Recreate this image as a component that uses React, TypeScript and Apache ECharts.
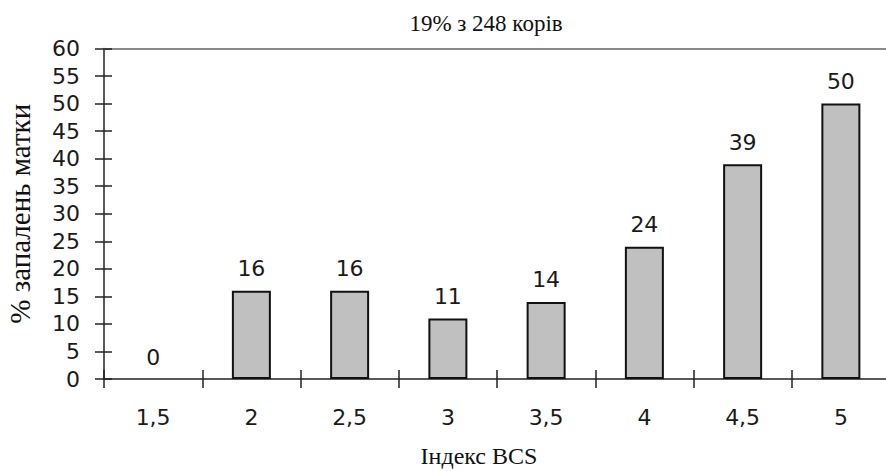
import React, { useEffect, useRef } from "react";
import * as echarts from "echarts";

const categories = ["1,5", "2", "2,5", "3", "3,5", "4", "4,5", "5"];
const values = [0, 16, 16, 11, 14, 24, 39, 50];
const titleText = "19% з 248 корів";
const xName = "Індекс BCS";
const yName = "% запалень матки";
const yMin = 0;
const yMax = 60;
const yStep = 5;

const SANS = "DejaVu Sans";
const SERIF = "Liberation Serif";

export default function App() {
  const ref = useRef<HTMLDivElement>(null);
  useEffect(() => {
    if (!ref.current) return;
    const chart = echarts.init(ref.current, null, { renderer: "svg" });
    const axisColor = "#222";
    const barData = values.map((v) =>
      v === 0 ? { value: v, itemStyle: { borderWidth: 0 } } : { value: v }
    );
    chart.setOption({
      animation: false,
      backgroundColor: "#fff",
      title: {
        text: titleText,
        left: 481,
        top: 7,
        textAlign: "center",
        textStyle: { fontFamily: SERIF, fontSize: 23, fontWeight: "normal", color: "#111" },
      },
      grid: {
        left: 104,
        right: -4,
        top: 48.5,
        bottom: 92,
        containLabel: false,
        outerBoundsMode: "none",
      },
      xAxis: [
        {
          type: "category",
          data: categories,
          position: "bottom",
          axisLine: { show: true, lineStyle: { color: axisColor, width: 1.5 } },
          axisTick: { show: true, inside: false, length: 9, lineStyle: { color: axisColor, width: 1.5 } },
          axisLabel: { margin: 27, fontSize: 22, fontFamily: SANS, color: "#1a1a1a" },
          splitLine: { show: false },
          name: xName,
          nameLocation: "middle",
          nameGap: 65,
          nameTextStyle: { fontFamily: SERIF, fontSize: 24, color: "#111", padding: [0, 36, 0, 0] },
        },
        {
          type: "category",
          data: categories,
          position: "bottom",
          axisLine: { show: false },
          axisTick: { show: true, inside: true, length: 9, lineStyle: { color: axisColor, width: 1.5 } },
          axisLabel: { show: false },
          splitLine: { show: false },
        },
        {
          type: "category",
          data: categories,
          position: "top",
          axisLine: { show: true, lineStyle: { color: "#8a8a8a", width: 2 } },
          axisTick: { show: false },
          axisLabel: { show: false },
          splitLine: { show: false },
        },
      ],
      yAxis: [
        {
          type: "value",
          min: yMin,
          max: yMax,
          interval: yStep,
          position: "left",
          axisLine: { show: true, lineStyle: { color: axisColor, width: 1.5 } },
          axisTick: { show: true, inside: false, length: 9, lineStyle: { color: axisColor, width: 1.5 } },
          axisLabel: { margin: 24, fontSize: 22, fontFamily: SANS, color: "#1a1a1a" },
          splitLine: { show: false },
          name: yName,
          nameLocation: "middle",
          nameGap: 70,
          nameTextStyle: { fontFamily: SERIF, fontSize: 29, color: "#111" },
        },
        {
          type: "value",
          min: yMin,
          max: yMax,
          interval: yStep,
          position: "left",
          axisLine: { show: false },
          axisTick: { show: true, inside: true, length: 8, lineStyle: { color: axisColor, width: 1.5 } },
          axisLabel: { show: false },
          splitLine: { show: false },
        },
      ],
      series: [
        {
          type: "bar",
          data: barData,
          xAxisIndex: 0,
          yAxisIndex: 0,
          barWidth: 39,
          itemStyle: { color: "#c0c0c0", borderColor: "#111", borderWidth: 2 },
          label: {
            show: true,
            position: "top",
            distance: 11,
            fontSize: 22,
            fontFamily: SANS,
            color: "#1a1a1a",
          },
        },
      ],
    });
    return () => chart.dispose();
  }, []);
  return (
    <div
      ref={ref}
      style={{ position: "fixed", left: 0, top: 0, width: 886, height: 471, background: "#fff" }}
    />
  );
}
